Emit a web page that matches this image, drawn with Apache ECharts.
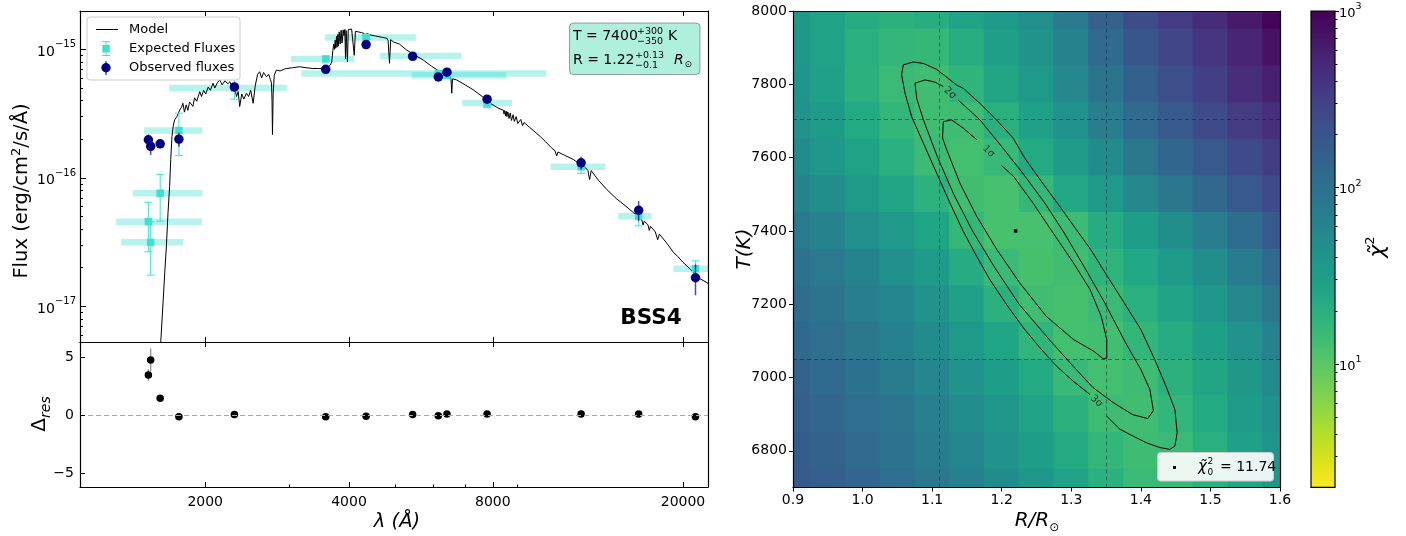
<!DOCTYPE html>
<html>
<head>
<meta charset="utf-8">
<script src="https://cdn.jsdelivr.net/npm/echarts@6.0.0/dist/echarts.min.js"></script>
<style>
html,body{margin:0;padding:0;background:#ffffff;}
#chart{width:1406px;height:536px;}
</style>
</head>
<body>
<div id="chart"></div>
<script>
// ================= DATA =================
// SED panel. Fluxes are in units of 1e-17 erg/cm^2/s/Å
const FLUX_UNIT = 1e-17;
const modelWave = [1600,1615,1625,1634,1646,1659,1672,1685,1694,1704,1715,1726,1745,1770,1785,1796,1810,1825,1840,1855,1871,1885,1900,1920,1948,1965,1985,2005,2030,2050,2077,2095,2120,2145,2170,2200,2230,2252,2275,2300,2326,2345,2362,2385,2410,2440,2465,2490,2520,2545,2575,2601,2625,2650,2688,2715,2740,2753,2760,2766,2775,2790,2818,2870,2920,2960,3050,3152,3250,3361,3450,3542,3600,3656,3680,3700,3715,3728,3742,3752,3766,3776,3790,3800,3815,3832,3850,3868,3888,3905,3920,3933,3945,3960,3970,3985,4018,4050,4075,4102,4125,4180,4250,4300,4330,4341,4355,4450,4550,4700,4800,4830,4861,4890,4960,5100,5281,5500,5721,5950,6202,6400,6520,6540,6563,6585,6722,7000,7282,7600,7893,8200,8420,8440,8465,8500,8530,8560,8600,8650,8700,8750,8820,8870,8950,9020,9150,9230,9300,9550,9800,10047,10300,10600,10800,10880,10950,11300,11797,12200,12500,12650,12750,12850,13300,13860,14500,15200,15755,16100,16400,16500,16600,16900,17000,17100,17500,17700,17850,18500,19110,19500,20000,20710,21000,21650,21700,22450,22700];
const modelFlux = [0.3,0.54,0.8,1.14,1.84,2.95,5.37,8.6,13.9,21,25.5,28.3,30,33.9,35.5,38.1,32.5,37,33.5,39,40.4,36,42,39.5,46.9,43,48,45,51,48,54.5,50,55,57.8,53,57,54,56,51,53,43,47,35.9,45,41,45.6,43,48,38.1,52,64,67,60,66,61.3,64,58,54.5,40,21.7,45,63,69,68,70,71,72,73.3,72,71,71,71,72,75.5,80,98,110,100,118,102,126,104,131,106,137,110,141,112,142,128,143,85,140,143,80,143,145.5,144,140,90,138,137,135,133,128,102,133,129,127,124,122,117,78,119,114,110,98.8,90,82.6,74,67,63,61,58,45.6,59,57.8,53,48.4,43,38.1,35,33.6,31.5,33.4,30.5,33.1,30,32.6,29,32,28,31,27.5,30,26.5,28.5,25.5,27,24.7,22.8,21,19.2,17.2,16.2,14.8,15.9,15,13.9,12.7,12,11.4,9.7,11.4,9.6,8.1,6.9,6.0,5.36,5.0,4.7,4.3,4.6,4.3,3.9,4.2,3.8,3.3,3.65,3.1,2.62,2.45,2.2,1.95,1.85,1.65,1.7,1.53,1.48];

const bandWave   = [1521,1538,1610,1762,2302,3575,4343,5435,6150,6412,7780,12240,16150,21240];
const obsFlux    = [19.8,17.6,18.4,20.0,51,70,109,88.4,61,66.5,41,13.1,5.6,1.67];
const obsErr     = [2.0,2.5,1.2,2.5,4,2,8,2,2,2,2,1.5,1.0,0.45];
const expFlux    = [4.56,3.15,7.6,23.4,50,84.3,124,89,65,63,38.2,12.2,5.03,1.96];
const expErr     = [1.9,1.4,3.0,8.5,9,3,5,2,2,2,3,1.4,0.8,0.3];
const bandLow    = [1301,1333,1412,1489,1680,3025,3560,4640,3180,5410,6900,10570,14640,19100];
const bandHigh   = [1967,1800,1974,1974,2967,4103,5520,6870,10360,8540,8770,13760,17170,23500];
const residual   = [3.5,4.8,1.5,-0.1,0.1,-0.1,-0.05,0.1,0.0,0.15,0.15,0.15,0.15,-0.1];
const residualErr= [0.5,1.0,0.15,0.15,0.1,0.05,0.05,0.05,0.05,0.05,0.05,0.1,0.1,0.15];

const waveTicks      = [2000,4000,8000,20000];
const waveMinorTicks = [3000,5000,6000,7000,9000];
const fluxMinorTicks = [6e-18,7e-18,8e-18,9e-18,2e-17,3e-17,4e-17,5e-17,6e-17,7e-17,8e-17,9e-17,2e-16,3e-16,4e-16,5e-16,6e-16,7e-16,8e-16,9e-16];
const residualTicks  = [-5,0,5];

// chi2 map panel
const chiR = [0.90,0.95,1.00,1.05,1.10,1.15,1.20,1.25,1.30,1.35,1.40,1.45,1.50,1.55,1.60];
const chiT = [8000,7900,7800,7700,7600,7500,7400,7300,7200,7100,7000,6900,6800,6700];
const chiValues = [
  [37,28,22,19,21,27,34,47,78,145,235,335,460,640,920],
  [38,28,20,16.5,16,21,30,41,63,118,190,275,385,530,740],
  [40,29,19,15,13.5,17.5,26,35,55,92,150,225,320,450,580],
  [44,33,23,16.5,13.5,14,20,29,43,72,118,175,250,340,430],
  [50,38,28,19.5,14.5,13,15.5,23,33,50,85,128,180,250,330],
  [62,48,36,26,18.5,13.5,12.5,16,24,35,56,85,125,180,250],
  [80,63,47,35,25,16,12.3,12.5,14.5,22,32,48,72,110,175],
  [100,80,62,46,33,22,15,12.4,13.5,17.5,24,33,48,75,120],
  [112,92,74,57,42,29,19,13.5,12.6,15,19.5,27,38,56,85],
  [126,105,85,66,50,36,25,17,13,13.2,16.5,22,31,44,64],
  [140,118,96,76,58,44,32,23,15.5,13,14,19,26,37,52],
  [152,130,108,87,67,51,38,27,19,14,13.5,16.5,23,33,45],
  [165,142,120,98,77,59,44,32,23,16.5,14,15,20,29,40],
  [180,155,132,108,86,66,50,37,27,19.5,15,15,19,26,37]
];
const contourInner = [[1.200,7578],[1.217,7549],[1.245,7476],[1.274,7394],[1.303,7313],[1.327,7240],[1.343,7167],[1.351,7104],[1.351,7054],[1.346,7051],[1.332,7072],[1.303,7104],[1.264,7167],[1.226,7258],[1.193,7349],[1.164,7440],[1.140,7530],[1.121,7621],[1.115,7653],[1.116,7698],[1.128,7703],[1.130,7701],[1.145,7680],[1.164,7649]];
const contourMiddle = [[1.1375,7757],[1.1687,7703],[1.200,7630],[1.230,7558],[1.262,7476],[1.290,7394],[1.318,7304],[1.348,7204],[1.378,7095],[1.400,7022],[1.413,6967],[1.418,6910],[1.410,6888],[1.388,6899],[1.360,6932],[1.331,6973],[1.307,7022],[1.270,7100],[1.225,7200],[1.190,7300],[1.158,7400],[1.131,7500],[1.108,7600],[1.088,7700],[1.078,7760],[1.0753,7803],[1.0897,7812],[1.104,7806],[1.116,7794]];
const contourOuter = [[1.3267,6954],[1.3028,6990],[1.2788,7031],[1.255,7081],[1.231,7136],[1.207,7199],[1.183,7267],[1.1639,7331],[1.1447,7399],[1.1256,7476],[1.1064,7558],[1.0873,7640],[1.0705,7712],[1.061,7776],[1.0561,7826],[1.0585,7853],[1.0729,7861],[1.0873,7857],[1.1064,7841],[1.1352,7798],[1.1447,7789],[1.1687,7748],[1.1926,7703],[1.2166,7653],[1.233,7599],[1.257,7535],[1.280,7476],[1.304,7412],[1.328,7349],[1.352,7276],[1.376,7204],[1.400,7131],[1.420,7049],[1.436,6977],[1.4489,6913],[1.4522,6850],[1.4489,6813],[1.4417,6804],[1.4273,6809],[1.408,6822],[1.389,6840],[1.3698,6859],[1.3507,6895]];
const contourLabelText = ['1σ','2σ','3σ'];
const contourLabelR = [1.181,1.1256,1.3363];
const contourLabelT = [7617,7776,6936];
const bestR = 1.22, bestT = 7400, chiMin = 11.74;
const errBoundsR = [1.115,1.35];
const errBoundsT = [7050,7705];
const rTicks = [0.9,1.0,1.1,1.2,1.3,1.4,1.5,1.6];
const tTicks = [6800,7000,7200,7400,7600,7800,8000];
const cbarMinorTicks = [3,4,5,6,7,8,9,20,30,40,50,60,70,80,90,200,300,400,500,600,700,800,900];

// ================= CHART =================
const FONT = 'DejaVu Sans';
const chart = echarts.init(document.getElementById('chart'), null, {renderer:'canvas', width:1406, height:536});

const viridisR = ['#fde725','#dfe318','#bddf26','#9bd93c','#7ad151','#5ec962','#44bf70','#2fb47c','#22a884','#1e9c89','#21918c','#25848e','#2a788e','#2f6c8e','#355f8d','#3b528b','#414487','#463480','#482475','#471365','#440154'];
const CB_MIN = 2, CB_MAX = 1000;

function pow10Label(v){
  const e = Math.round(Math.log10(v));
  return '{b|10}{s|' + (e < 0 ? '\u2212' : '') + Math.abs(e) + '}';
}
const powRich = {
  b:{fontFamily:FONT,fontSize:14,color:'#000',lineHeight:19,verticalAlign:'bottom'},
  s:{fontFamily:FONT,fontSize:10,color:'#000',lineHeight:19,verticalAlign:'top'}
};
const axLine = {show:true,onZero:false,lineStyle:{color:'#000',width:1.2}};
const noLine = {show:false,onZero:false};
const noLabel = {show:false};
const noSplit = {show:false};

const X_MIN = 1094, X_MAX = 22560;
const Y_MIN = 5.28e-18, Y_MAX = 1.99e-15;

function logX(extra){ return Object.assign({type:'log',logBase:10,min:X_MIN,max:X_MAX,axisLine:axLine,splitLine:noSplit,z:10}, extra); }
const majTick = {show:true,inside:true,length:5,customValues:waveTicks,lineStyle:{color:'#000'}};

const xAxes = [
  logX({gridIndex:0,position:'bottom',axisTick:majTick,axisLabel:noLabel}),
  logX({gridIndex:0,position:'top',axisTick:majTick,axisLabel:noLabel}),
  logX({gridIndex:1,position:'bottom',axisTick:majTick,
        axisLabel:{show:true,customValues:waveTicks,fontFamily:FONT,fontSize:14,color:'#000',margin:8,formatter:v=>String(Math.round(v))}}),
  logX({gridIndex:1,position:'top',axisTick:majTick,axisLabel:noLabel}),
  logX({gridIndex:1,position:'bottom',axisLine:noLine,axisTick:{show:true,inside:true,length:2.5,customValues:waveMinorTicks,lineStyle:{color:'#000'}},axisLabel:noLabel}),
  {type:'value',gridIndex:2,position:'bottom',min:0.9,max:1.6,axisLine:axLine,splitLine:noSplit,z:10,
   axisTick:{show:true,inside:false,length:4,customValues:rTicks,lineStyle:{color:'#000'}},
   axisLabel:{show:true,customValues:rTicks,fontFamily:FONT,fontSize:14,color:'#000',margin:6,formatter:v=>v.toFixed(1)}},
  {type:'value',gridIndex:2,position:'top',min:0.9,max:1.6,axisLine:axLine,splitLine:noSplit,z:10,axisTick:{show:false},axisLabel:noLabel},
  {type:'value',gridIndex:3,position:'bottom',min:0,max:1,show:false}
];

const yAxes = [
  {type:'log',logBase:10,gridIndex:0,position:'left',min:Y_MIN,max:Y_MAX,axisLine:axLine,splitLine:noSplit,z:10,
   axisTick:{show:true,inside:true,length:6,lineStyle:{color:'#000'}},
   axisLabel:{show:true,margin:4,showMinLabel:false,showMaxLabel:false,formatter:pow10Label,rich:powRich}},
  {type:'log',logBase:10,gridIndex:0,position:'left',min:Y_MIN,max:Y_MAX,axisLine:noLine,splitLine:noSplit,z:10,
   axisTick:{show:true,inside:true,length:3,customValues:fluxMinorTicks,lineStyle:{color:'#000'}},axisLabel:noLabel},
  {type:'log',logBase:10,gridIndex:0,position:'right',min:Y_MIN,max:Y_MAX,axisLine:axLine,splitLine:noSplit,z:10,axisTick:{show:false},axisLabel:noLabel},
  {type:'value',gridIndex:1,position:'left',min:-6.15,max:6.35,axisLine:axLine,splitLine:noSplit,z:10,
   axisTick:{show:true,inside:true,length:5,customValues:residualTicks,lineStyle:{color:'#000'}},
   axisLabel:{show:true,customValues:residualTicks,fontFamily:FONT,fontSize:14,color:'#000',margin:6,formatter:v=>(v<0?'\u2212':'')+Math.abs(v)}},
  {type:'value',gridIndex:1,position:'right',min:-6.15,max:6.35,axisLine:axLine,splitLine:noSplit,z:10,axisTick:{show:false},axisLabel:noLabel},
  {type:'value',gridIndex:2,position:'left',min:6700,max:8000,axisLine:axLine,splitLine:noSplit,z:10,
   axisTick:{show:true,inside:false,length:4,customValues:tTicks,lineStyle:{color:'#000'}},
   axisLabel:{show:true,customValues:tTicks,fontFamily:FONT,fontSize:14,color:'#000',margin:6,formatter:v=>String(v)}},
  {type:'value',gridIndex:2,position:'right',min:6700,max:8000,axisLine:axLine,splitLine:noSplit,z:10,axisTick:{show:false},axisLabel:noLabel},
  {type:'log',logBase:10,gridIndex:3,position:'right',min:CB_MIN,max:CB_MAX,axisLine:noLine,splitLine:noSplit,z:10,
   axisTick:{show:true,inside:false,length:4,lineStyle:{color:'#000'}},
   axisLabel:{show:true,margin:4,showMinLabel:false,formatter:v=>{const e=Math.round(Math.log10(v));return '{b|10}{s|'+e+'}';},
     rich:{b:{fontFamily:FONT,fontSize:13,color:'#000',lineHeight:18,verticalAlign:'bottom'},s:{fontFamily:FONT,fontSize:9.5,color:'#000',lineHeight:18,verticalAlign:'top'}}}},
  {type:'log',logBase:10,gridIndex:3,position:'right',min:CB_MIN,max:CB_MAX,axisLine:noLine,splitLine:noSplit,z:10,
   axisTick:{show:true,inside:false,length:2.5,customValues:cbarMinorTicks,lineStyle:{color:'#000'}},axisLabel:noLabel}
];

function clipH(cs, a, b){
  return [Math.max(Math.min(a,b), cs.x), Math.min(Math.max(a,b), cs.x + cs.width)];
}

function errorBarRender(color, lw, capHalf){
  return function(params, api){
    const x = api.value(0), y = api.value(1), e = api.value(2);
    const top = api.coord([x, y + e]);
    const bot = api.coord([x, y - e]);
    const cs = params.coordSys;
    const y1 = Math.max(top[1], cs.y), y2 = Math.min(bot[1], cs.y + cs.height);
    const children = [{type:'line',shape:{x1:top[0],y1:y1,x2:top[0],y2:y2},style:{stroke:color,lineWidth:lw}}];
    if (capHalf > 0) {
      children.push({type:'line',shape:{x1:top[0]-capHalf,y1:top[1],x2:top[0]+capHalf,y2:top[1]},style:{stroke:color,lineWidth:lw}});
      children.push({type:'line',shape:{x1:bot[0]-capHalf,y1:bot[1],x2:bot[0]+capHalf,y2:bot[1]},style:{stroke:color,lineWidth:lw}});
    }
    return {type:'group',children:children};
  };
}

const heatData = [];
chiT.forEach((t, i) => chiR.forEach((r, j) => {
  const v = chiValues[i][j];
  heatData.push([r, t, Math.log10(v), v]);
}));
const dR = chiR[1] - chiR[0];
const dT = chiT[0] - chiT[1];

const series = [
  // filter-width bands
  {type:'custom',xAxisIndex:0,yAxisIndex:0,z:1,silent:true,
   encode:{x:[0,1],y:2},
   data:bandLow.map((lo,i)=>[lo,bandHigh[i],expFlux[i]*FLUX_UNIT]),
   renderItem:function(params, api){
     const a = api.coord([api.value(0), api.value(2)]);
     const b = api.coord([api.value(1), api.value(2)]);
     const xs = clipH(params.coordSys, a[0], b[0]);
     return {type:'line',shape:{x1:xs[0],y1:a[1],x2:xs[1],y2:a[1]},style:{stroke:'rgba(64,224,208,0.38)',lineWidth:6.5}};
   }},
  // model spectrum
  {type:'line',name:'Model',xAxisIndex:0,yAxisIndex:0,z:2,showSymbol:false,symbol:'none',clip:true,silent:true,
   data:modelWave.map((w,i)=>[w, modelFlux[i]*FLUX_UNIT]),
   lineStyle:{color:'#000',width:1}},
  // expected flux error bars
  {type:'custom',xAxisIndex:0,yAxisIndex:0,z:3,silent:true,encode:{x:0,y:1},
   data:bandWave.map((w,i)=>[w, expFlux[i]*FLUX_UNIT, expErr[i]*FLUX_UNIT]),
   renderItem:errorBarRender('#40e0d0',1,4)},
  // expected fluxes
  {type:'scatter',name:'Expected Fluxes',xAxisIndex:0,yAxisIndex:0,z:4,symbol:'rect',symbolSize:7.5,silent:true,
   data:bandWave.map((w,i)=>[w, expFlux[i]*FLUX_UNIT]),itemStyle:{color:'#40e0d0',opacity:1}},
  // observed error bars
  {type:'custom',xAxisIndex:0,yAxisIndex:0,z:5,silent:true,encode:{x:0,y:1},
   data:bandWave.map((w,i)=>[w, obsFlux[i]*FLUX_UNIT, obsErr[i]*FLUX_UNIT]),
   renderItem:errorBarRender('rgba(0,0,128,0.7)',1.5,0)},
  // observed fluxes
  {type:'scatter',name:'Observed fluxes',xAxisIndex:0,yAxisIndex:0,z:6,symbol:'circle',symbolSize:9.5,silent:true,
   data:bandWave.map((w,i)=>[w, obsFlux[i]*FLUX_UNIT]),itemStyle:{color:'#000080',opacity:1}},
  // residual error bars
  {type:'custom',xAxisIndex:2,yAxisIndex:3,z:3,silent:true,encode:{x:0,y:1},
   data:bandWave.map((w,i)=>[w, residual[i], residualErr[i]]),
   renderItem:errorBarRender('#888888',1.2,0)},
  // residuals
  {type:'scatter',xAxisIndex:2,yAxisIndex:3,z:4,symbol:'circle',symbolSize:7.5,silent:true,
   data:bandWave.map((w,i)=>[w, residual[i]]),itemStyle:{color:'#000',opacity:1},
   markLine:{silent:true,symbol:['none','none'],label:{show:false},animation:false,
     lineStyle:{color:'#aaaaaa',type:[5,3],width:1},data:[{yAxis:0}]}},
  // chi2 map cells
  {type:'custom',xAxisIndex:5,yAxisIndex:5,z:1,silent:true,encode:{x:0,y:1},
   data:heatData,
   renderItem:function(params, api){
     const r = api.value(0), t = api.value(1);
     const p0 = api.coord([r - dR/2, t + dT/2]);
     const p1 = api.coord([r + dR/2, t - dT/2]);
     const rect = echarts.graphic.clipRectByRect({x:p0[0]-0.5,y:p0[1]-0.5,width:p1[0]-p0[0]+1,height:p1[1]-p0[1]+1}, params.coordSys);
     if (!rect) return null;
     return {type:'rect',shape:rect,style:{fill:api.visual('color')}};
   }},
  // contours
  {type:'line',xAxisIndex:5,yAxisIndex:5,z:3,symbol:'none',silent:true,data:contourInner,lineStyle:{color:'#000',width:1}},
  {type:'line',xAxisIndex:5,yAxisIndex:5,z:3,symbol:'none',silent:true,data:contourMiddle,lineStyle:{color:'#000',width:1}},
  {type:'line',xAxisIndex:5,yAxisIndex:5,z:3,symbol:'none',silent:true,data:contourOuter,lineStyle:{color:'#000',width:1},
   markLine:{silent:true,symbol:['none','none'],label:{show:false},animation:false,
     lineStyle:{color:'rgba(20,30,40,0.5)',type:[4,3],width:1},
     data:[{xAxis:errBoundsR[0]},{xAxis:errBoundsR[1]},{yAxis:errBoundsT[0]},{yAxis:errBoundsT[1]}]}},
  // contour labels
  {type:'scatter',xAxisIndex:5,yAxisIndex:5,z:4,symbolSize:1,silent:true,itemStyle:{color:'rgba(0,0,0,0)'},
   data:contourLabelText.map((s,i)=>({name:s,value:[contourLabelR[i],contourLabelT[i]],label:{rotate:[-45,-42,-42][i]}})),
   label:{show:true,position:'inside',formatter:p=>p.name,fontFamily:FONT,fontSize:10,color:'#111'}},
  // best fit point
  {type:'scatter',xAxisIndex:5,yAxisIndex:5,z:5,symbol:'rect',symbolSize:3.5,silent:true,
   data:[[bestR,bestT]],itemStyle:{color:'#000',opacity:1}}
];
const HEAT_INDEX = 8;

const TXT = (x,y,text,extra) => Object.assign({type:'text',x:x,y:y,z:200,style:Object.assign({text:text,fontFamily:FONT,fill:'#000',align:'left',verticalAlign:'middle'}, extra||{})});

const graphics = [
  // SED legend
  {type:'rect',z:150,shape:{x:87,y:17,width:153,height:63,r:3},style:{fill:'rgba(255,255,255,0.85)',stroke:'#cccccc',lineWidth:1}},
  {type:'line',z:160,shape:{x1:96,y1:29.5,x2:118,y2:29.5},style:{stroke:'#000',lineWidth:1}},
  {type:'line',z:160,shape:{x1:106,y1:41.7,x2:106,y2:55.5},style:{stroke:'#40e0d0',lineWidth:1}},
  {type:'line',z:160,shape:{x1:102,y1:41.7,x2:110,y2:41.7},style:{stroke:'#40e0d0',lineWidth:1}},
  {type:'line',z:160,shape:{x1:102,y1:55.5,x2:110,y2:55.5},style:{stroke:'#40e0d0',lineWidth:1}},
  {type:'rect',z:161,shape:{x:102.3,y:45,width:7.5,height:7.5},style:{fill:'#40e0d0'}},
  {type:'line',z:160,shape:{x1:106,y1:61,x2:106,y2:75},style:{stroke:'rgba(0,0,128,0.7)',lineWidth:1.5}},
  {type:'circle',z:161,shape:{cx:106,cy:67.8,r:4.7},style:{fill:'#000080'}},
  TXT(129,29.5,'Model',{fontSize:13}),
  TXT(129,48.8,'Expected Fluxes',{fontSize:13}),
  TXT(129,67.8,'Observed fluxes',{fontSize:13}),
  // fit result box
  {type:'rect',z:150,shape:{x:569.5,y:23,width:130.5,height:51.5,r:4},style:{fill:'#aef0db',stroke:'rgba(0,0,0,0.35)',lineWidth:1}},
  TXT(573,36.5,'T = 7400',{fontSize:14}),
  TXT(637,32,'+300',{fontSize:9.5}),
  TXT(637,41.8,'\u2212350',{fontSize:9.5}),
  TXT(668,36.5,'K',{fontSize:14}),
  TXT(573,60,'R = 1.22',{fontSize:14}),
  TXT(635,55.2,'+0.13',{fontSize:9.5}),
  TXT(635,65.8,'\u22120.1',{fontSize:9.5}),
  TXT(674,60,'R',{fontSize:14,fontStyle:'italic'}),
  TXT(684.5,64.5,'\u2299',{fontSize:9}),
  // star name
  TXT(651,318,'BSS4',{fontSize:21.5,fontWeight:'bold',align:'center'}),
  // axis titles (left)
  {type:'text',z:200,x:22,y:191,rotation:Math.PI/2,style:{text:'Flux (erg/cm{s|2}/s/Å)',fontFamily:FONT,fontSize:19.5,fill:'#000',align:'center',verticalAlign:'middle',
    rich:{s:{fontFamily:FONT,fontSize:13,verticalAlign:'top',lineHeight:24,fill:'#000'}}}},
  {type:'text',z:200,x:40,y:414,rotation:Math.PI/2,style:{text:'{d|Δ}{r|res}',fontFamily:FONT,fill:'#000',align:'center',verticalAlign:'middle',
    rich:{d:{fontFamily:FONT,fontSize:20,lineHeight:26,verticalAlign:'middle',fill:'#000'},r:{fontFamily:FONT,fontSize:14,fontStyle:'italic',lineHeight:26,verticalAlign:'bottom',fill:'#000'}}}},
  TXT(397,522,'λ (Å)',{fontSize:19.5,fontStyle:'italic',align:'center'}),
  // axis titles (right)
  {type:'text',z:200,x:745,y:249,rotation:Math.PI/2,style:{text:'T(K)',fontFamily:FONT,fontSize:20,fontStyle:'italic',fill:'#000',align:'center',verticalAlign:'middle'}},
  {type:'text',z:200,x:1037,y:521,style:{text:'{i|R/R}{s|⊙}',fontFamily:FONT,fill:'#000',align:'center',verticalAlign:'middle',
    rich:{i:{fontFamily:FONT,fontSize:20,fontStyle:'italic',lineHeight:26,verticalAlign:'middle',fill:'#000'},s:{fontFamily:FONT,fontSize:12,lineHeight:26,verticalAlign:'bottom',fill:'#000'}}}},
  // chi2 legend
  {type:'rect',z:150,shape:{x:1157.5,y:452.5,width:116,height:28.5,r:3},style:{fill:'rgba(255,255,255,0.9)',stroke:'#cccccc',lineWidth:1}},
  {type:'rect',z:160,shape:{x:1173,y:466,width:3,height:3},style:{fill:'#000'}},
  TXT(1198,467.5,'χ̃',{fontSize:15,fontStyle:'italic'}),
  TXT(1207.5,461.5,'2',{fontSize:9}),
  TXT(1207.5,472.5,'0',{fontSize:9}),
  TXT(1220,467.5,'= 11.74',{fontSize:14}),
  // colorbar
  {type:'rect',z:5,shape:{x:1311,y:11,width:24,height:476.3},style:{
     fill:new echarts.graphic.LinearGradient(0,1,0,0, viridisR.map((c,i)=>({offset:i/(viridisR.length-1),color:c}))),
     stroke:'#000',lineWidth:1.2}},
  {type:'text',z:200,x:1378,y:247,rotation:Math.PI/2,style:{text:'{a|χ̃}{s|2}',fontFamily:FONT,fill:'#000',align:'center',verticalAlign:'middle',
    rich:{a:{fontFamily:FONT,fontSize:22,fontStyle:'italic',lineHeight:28,verticalAlign:'middle',fill:'#000'},s:{fontFamily:FONT,fontSize:13,lineHeight:28,verticalAlign:'top',fill:'#000'}}}}
];

const option = {
  animation:false,
  backgroundColor:'#ffffff',
  textStyle:{fontFamily:FONT},
  grid:[
    {left:80,top:11,width:628,height:331,containLabel:false,outerBoundsMode:'none'},
    {left:80,top:342,width:628,height:145,containLabel:false,outerBoundsMode:'none'},
    {left:793,top:11,width:487,height:476.5,containLabel:false,outerBoundsMode:'none'},
    {left:1311,top:11,width:24,height:476.3,containLabel:false,outerBoundsMode:'none'}
  ],
  xAxis:xAxes,
  yAxis:yAxes,
  visualMap:[{type:'continuous',show:false,seriesIndex:HEAT_INDEX,dimension:2,min:Math.log10(CB_MIN),max:Math.log10(CB_MAX),inRange:{color:viridisR}}],
  series:series,
  graphic:graphics
};
chart.setOption(option);
</script>
</body>
</html>
